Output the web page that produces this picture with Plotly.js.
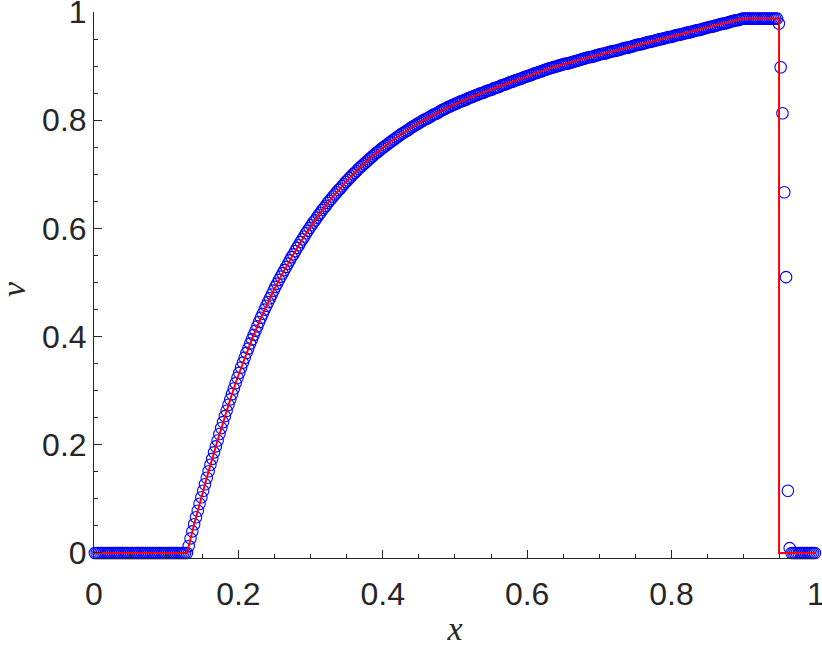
<!DOCTYPE html>
<html><head><meta charset="utf-8">
<script src="https://cdn.plot.ly/plotly-3.0.1.min.js"></script>
<style>html,body{margin:0;padding:0;background:#fff}</style>
</head><body>
<div id="chart" style="width:822px;height:647px"></div>
<script>
// exact solution (red line)
const exactX = [0, 0.12875, 0.13875, 0.14875, 0.15875, 0.16875, 0.17875, 0.18875, 0.19875, 0.20875, 0.21875,
  0.22875, 0.23875, 0.24875, 0.25875, 0.26875, 0.27875, 0.28875, 0.29875, 0.30875, 0.31875, 0.32875,
  0.34875, 0.36875, 0.38875, 0.40875, 0.42875, 0.44875, 0.46875, 0.48875, 0.50875, 0.52875,
  0.55875, 0.58875, 0.62875, 0.636, 0.67875, 0.72875, 0.77875, 0.82875, 0.89875, 0.949, 0.949, 1];
const exactV = [0, 0, 0.053, 0.103, 0.151, 0.197, 0.242, 0.284, 0.324, 0.361, 0.395,
  0.427, 0.457, 0.485, 0.511, 0.535, 0.558, 0.580, 0.601, 0.620, 0.638, 0.655,
  0.686, 0.713, 0.737, 0.758, 0.777, 0.794, 0.809, 0.823, 0.835, 0.846,
  0.861, 0.876, 0.895, 0.898, 0.914, 0.931, 0.948, 0.964, 0.988, 0.988, 0, 0];

// numerical solution (blue circles), 400 cells, first centre 0.00125, spacing 0.0025
const numX0 = 0.00125;
const numDx = 0.0025;
const numV = [
  0,0,0,0,0,0,0,0,0,0, 0,0,0,0,0,0,0,0,0,0, 0,0,0,0,0,0,0,0,0,0, 0,0,0,0,0,0,0,0,0,0, 0,0,0,0,0,0,0,0,0,0, 0,
  0, 0.013, 0.027, 0.040, 0.053,
  0.066, 0.078, 0.091, 0.103,
  0.115, 0.127, 0.139, 0.151,
  0.163, 0.174, 0.186, 0.197,
  0.208, 0.220, 0.231, 0.242,
  0.253, 0.263, 0.274, 0.284,
  0.294, 0.304, 0.314, 0.324,
  0.333, 0.343, 0.352, 0.361,
  0.370, 0.378, 0.387, 0.395,
  0.403, 0.411, 0.419, 0.427,
  0.435, 0.442, 0.450, 0.457,
  0.464, 0.471, 0.478, 0.485,
  0.492, 0.498, 0.505, 0.511,
  0.517, 0.523, 0.529, 0.535,
  0.541, 0.547, 0.552, 0.558,
  0.564, 0.569, 0.575, 0.580,
  0.585, 0.591, 0.596, 0.601,
  0.606, 0.611, 0.615, 0.620,
  0.625, 0.629, 0.634, 0.638,
  0.642, 0.647, 0.651, 0.655,
  0.659, 0.663, 0.667, 0.671, 0.674, 0.678, 0.682, 0.686,
  0.689, 0.693, 0.696, 0.700, 0.703, 0.706, 0.710, 0.713,
  0.716, 0.719, 0.722, 0.725, 0.728, 0.731, 0.734, 0.737,
  0.740, 0.742, 0.745, 0.748, 0.750, 0.753, 0.755, 0.758,
  0.760, 0.763, 0.765, 0.768, 0.770, 0.772, 0.775, 0.777,
  0.779, 0.781, 0.783, 0.786, 0.788, 0.790, 0.792, 0.794,
  0.796, 0.798, 0.800, 0.802, 0.803, 0.805, 0.807, 0.809,
  0.811, 0.812, 0.814, 0.816, 0.818, 0.820, 0.821, 0.823,
  0.825, 0.826, 0.828, 0.829, 0.831, 0.832, 0.834, 0.835,
  0.836, 0.838, 0.839, 0.841, 0.842, 0.843, 0.845, 0.846,
  0.847, 0.849, 0.850, 0.851, 0.852, 0.854, 0.855, 0.856, 0.857, 0.859, 0.860, 0.861,
  0.862, 0.864, 0.865, 0.866, 0.867, 0.869, 0.870, 0.871, 0.872, 0.874, 0.875, 0.876,
  0.877, 0.878, 0.880, 0.881, 0.882, 0.883, 0.884, 0.886, 0.887, 0.888, 0.889, 0.890, 0.891, 0.893, 0.894, 0.895,
  0.896, 0.897, 0.898, 0.899, 0.900, 0.901, 0.902, 0.903, 0.904, 0.905, 0.905, 0.906, 0.907, 0.908, 0.909, 0.910, 0.911, 0.912, 0.913, 0.914,
  0.915, 0.916, 0.917, 0.917, 0.918, 0.919, 0.920, 0.921, 0.922, 0.923, 0.923, 0.924, 0.925, 0.926, 0.927, 0.928, 0.928, 0.929, 0.930, 0.931,
  0.932, 0.933, 0.934, 0.934, 0.935, 0.936, 0.937, 0.938, 0.939, 0.940, 0.940, 0.941, 0.942, 0.943, 0.944, 0.945, 0.945, 0.946, 0.947, 0.948,
  0.949, 0.950, 0.950, 0.951, 0.952, 0.953, 0.954, 0.954, 0.955, 0.956, 0.957, 0.958, 0.958, 0.959, 0.960, 0.961, 0.962, 0.962, 0.963, 0.964,
  0.965, 0.966, 0.967, 0.967, 0.968, 0.969, 0.970, 0.971, 0.972, 0.973, 0.973, 0.974, 0.975, 0.976, 0.977, 0.978, 0.979, 0.979, 0.980, 0.981,
  0.982, 0.983, 0.984, 0.985, 0.985, 0.986, 0.987, 0.988,
  0.988, 0.988, 0.988, 0.988, 0.988, 0.988, 0.988, 0.988, 0.988, 0.988, 0.988, 0.988, 0.988, 0.988, 0.988, 0.988, 0.988, 0.988, 0.988,
  0.979, 0.898, 0.813, 0.667, 0.510, 0.115, 0.009,
  0,0,0,0,0,0,0,0,0,0,0,0,0,0
];

const xTicks = [0, 0.2, 0.4, 0.6, 0.8, 1];
const xTickLabels = ["0", "0.2", "0.4", "0.6", "0.8", "1"];
const yTicks = [0, 0.2, 0.4, 0.6, 0.8, 1];
const yTickLabels = ["0", "0.2", "0.4", "0.6", "0.8", "1"];
const xTitle = 'x';
const yTitle = 'v';

const axisCol = '#262626';
const tickFont = {family: 'Liberation Sans, Arial, sans-serif', size: 32, color: axisCol};
const titleFont = {family: 'Liberation Serif, serif', size: 34, color: axisCol};
const traces = [
  {
    y: numV, x0: numX0, dx: numDx, mode: 'markers', type: 'scatter',
    marker: {symbol: 'circle-open', size: 11.5, color: '#0000ff', line: {width: 1.1, color: '#0000ff'}},
    hoverinfo: 'skip', cliponaxis: false
  },
  {
    x: exactX, y: exactV, mode: 'lines', type: 'scatter',
    line: {color: '#ff0000', width: 2}, hoverinfo: 'skip', cliponaxis: false
  }
];
const layout = {
  width: 822, height: 647,
  margin: {l: 94, r: 6, t: 12, b: 89, pad: 0},
  paper_bgcolor: '#fff', plot_bgcolor: '#fff',
  showlegend: false,
  xaxis: {
    range: [0, 1.0002], tickvals: xTicks, ticktext: xTickLabels, ticklabeloverflow: 'allow',
    showline: true, linecolor: axisCol, linewidth: 1, showgrid: false, zeroline: false,
    ticks: 'inside', ticklen: 8, tickwidth: 1, tickcolor: axisCol, tickfont: tickFont,
    ticklabelstandoff: 8,
    minor: {dtick: 0.05, ticks: 'inside', ticklen: 4, tickwidth: 1, tickcolor: axisCol, showgrid: false},
    title: {text: '<i>' + xTitle + '</i>', font: titleFont, standoff: 10}
  },
  yaxis: {
    range: [-0.0093, 1.0002], tickvals: yTicks, ticktext: yTickLabels, ticklabeloverflow: 'allow',
    showline: true, linecolor: axisCol, linewidth: 1, showgrid: false, zeroline: false,
    ticks: 'inside', ticklen: 8, tickwidth: 1, tickcolor: axisCol, tickfont: tickFont,
    minor: {dtick: 0.05, ticks: 'inside', ticklen: 4, tickwidth: 1, tickcolor: axisCol, showgrid: false},
    title: {text: ''}
  },
  annotations: [{
    text: '<i>' + yTitle + '</i>', xref: 'paper', yref: 'paper', x: 0, y: 0.5,
    xanchor: 'center', yanchor: 'middle', xshift: -81, yshift: -4, textangle: -90,
    showarrow: false, font: titleFont
  }]
};
Plotly.newPlot('chart', traces, layout, {staticPlot: true, displayModeBar: false});
</script>
</body></html>
